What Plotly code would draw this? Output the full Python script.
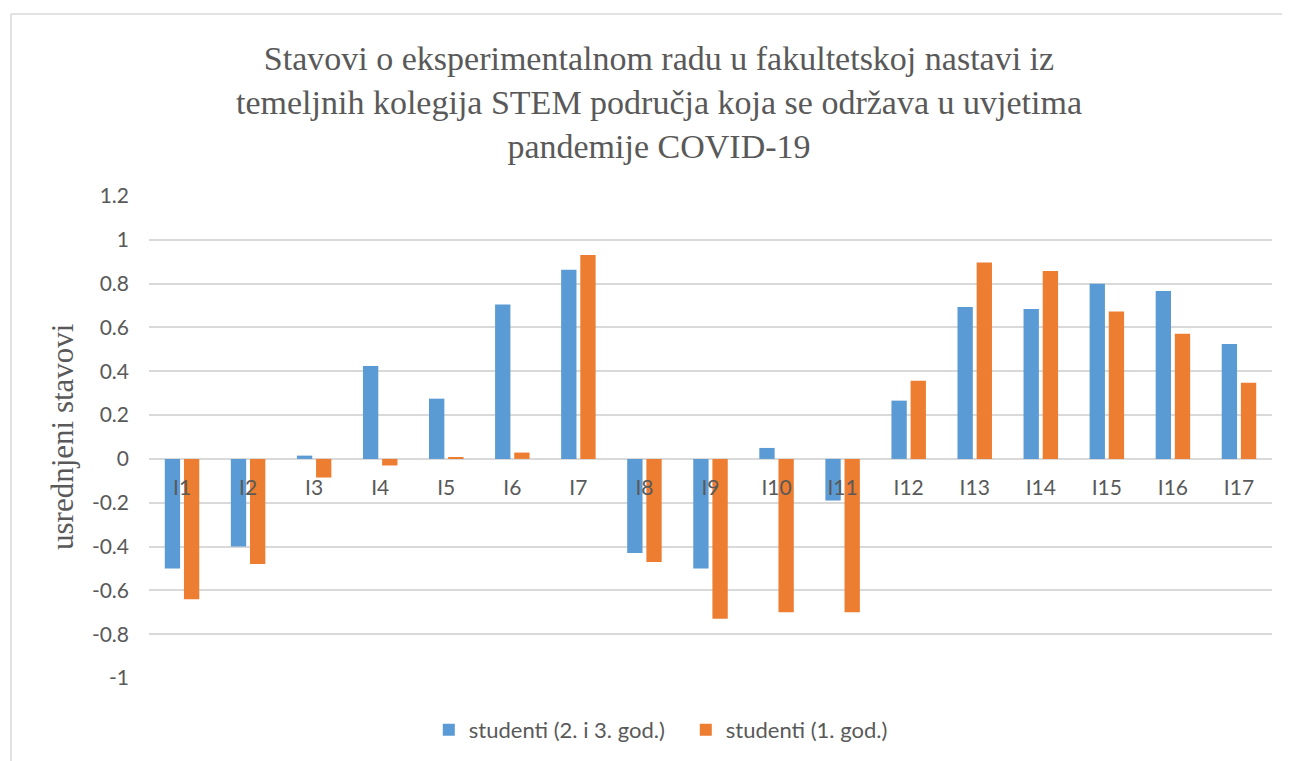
import plotly.graph_objects as go

categories = ["I1", "I2", "I3", "I4", "I5", "I6", "I7", "I8", "I9", "I10",
              "I11", "I12", "I13", "I14", "I15", "I16", "I17"]
series_names = ["studenti (2. i 3. god.)", "studenti (1. god.)"]
studenti_2_3 = [-0.50, -0.40, 0.015, 0.424, 0.275, 0.705, 0.863, -0.43, -0.50, 0.05,
                -0.19, 0.266, 0.693, 0.684, 0.80, 0.766, 0.524]
studenti_1 = [-0.64, -0.48, -0.085, -0.03, 0.006, 0.029, 0.931, -0.47, -0.73, -0.70,
              -0.70, 0.357, 0.896, 0.858, 0.673, 0.571, 0.348]
y_tickvals = [1.2, 1.0, 0.8, 0.6, 0.4, 0.2, 0.0, -0.2, -0.4, -0.6, -0.8, -1.0]
y_ticktext = ["1.2", "1", "0.8", "0.6", "0.4", "0.2", "0", "-0.2", "-0.4", "-0.6", "-0.8", "-1"]
title_text = ("Stavovi o eksperimentalnom radu u fakultetskoj nastavi iz<br>"
              "temeljnih kolegija STEM područja koja se održava u uvjetima<br>"
              "pandemije COVID-19")
y_title = "usrednjeni stavovi"

OFF = 8  # page body margin
W, H = 1290 - OFF, 761 - OFF
L, R, T, B = 149 - OFF, 18, 196 - OFF, 83
plot_w = W - L - R
plot_h = H - T - B
ymin, ymax = -1.0, 1.2

grey_text = "#595959"
grid = "#D9D9D9"
sans = "Lato, Calibri, Carlito, sans-serif"
serif = "Liberation Serif, Times New Roman, serif"


def px_x(px):
    return (px - OFF - L) / plot_w


def px_y(py):
    return (H - B - (py - OFF)) / plot_h


fig = go.Figure()
fig.add_trace(go.Bar(x=categories, y=studenti_2_3, name=series_names[0],
                     marker=dict(color="#5B9BD5", line=dict(width=0))))
fig.add_trace(go.Bar(x=categories, y=studenti_1, name=series_names[1],
                     marker=dict(color="#ED7D31", line=dict(width=0))))

fig.update_layout(
    width=W, height=H,
    margin=dict(l=L, r=R, t=T, b=B, autoexpand=False),
    paper_bgcolor="white", plot_bgcolor="white",
    barmode="group", bargap=0.42, bargroupgap=0.2,
    title=dict(text=title_text, x=(659 - OFF) / W, xanchor="center", xref="container",
               y=1 - 62 / H, yanchor="middle", yref="container",
               font=dict(family=serif, size=34, color=grey_text)),
    showlegend=True,
    legend=dict(orientation="h", x=0.478, xanchor="center", y=px_y(730), yanchor="middle",
                entrywidth=212, entrywidthmode="pixels",
                font=dict(family=sans, size=22, color=grey_text), traceorder="normal"),
    xaxis=dict(type="category", anchor="free", position=(0 - ymin) / (ymax - ymin),
               showline=False, showgrid=False, ticks="", zeroline=False,
               ticklabelstandoff=14,
               tickfont=dict(family=sans, size=21, color=grey_text)),
    yaxis=dict(range=[ymin, ymax], domain=[0, 1], tickvals=y_tickvals, ticktext=y_ticktext,
               showgrid=True, gridcolor=grid, gridwidth=1.5,
               zeroline=True, zerolinecolor=grid, zerolinewidth=1.5,
               showline=False, ticks="", ticklabelstandoff=19,
               tickfont=dict(family=sans, size=21, color=grey_text)),
    annotations=[dict(text=y_title, textangle=-90, xref="paper", yref="paper",
                      x=px_x(62), y=0.5, xanchor="center", yanchor="middle",
                      showarrow=False, font=dict(family=serif, size=31, color=grey_text))],
    shapes=[
        dict(type="line", xref="paper", yref="paper", x0=px_x(11), x1=px_x(1300),
             y0=px_y(14), y1=px_y(14), line=dict(color=grid, width=1.5)),
        dict(type="line", xref="paper", yref="paper", x0=px_x(11), x1=px_x(11),
             y0=px_y(14), y1=px_y(775), line=dict(color=grid, width=1.5)),
    ],
)

fig.write_html("out.html")
